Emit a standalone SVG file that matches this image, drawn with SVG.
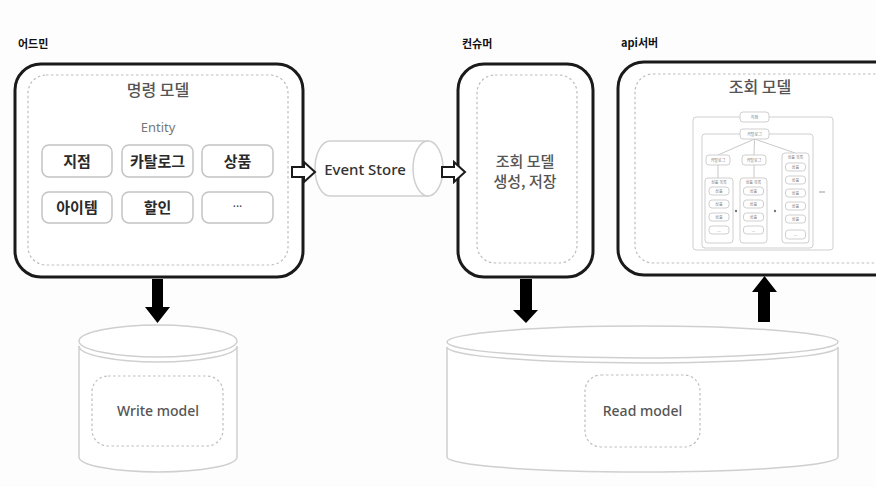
<svg xmlns="http://www.w3.org/2000/svg" width="876" height="487" viewBox="0 0 876 487">
<style>
text{font-family:"Noto Sans CJK KR","Noto Sans",sans-serif;}
.lbl{font-size:11px;font-weight:700;fill:#111;}
.outer{fill:#fff;stroke:#1a1a1a;stroke-width:3;}
.dash{fill:none;stroke:#bdbdbd;stroke-width:1.2;stroke-dasharray:2.5 2.5;}
.title{font-size:16px;fill:#555;font-weight:500;text-anchor:middle;}
.title2{font-size:15px;fill:#555;font-weight:500;text-anchor:middle;}
.ent{fill:#fff;stroke:#c4c4c4;stroke-width:1.5;}
.entt{font-size:15px;font-weight:700;fill:#2a2a2a;text-anchor:middle;}
.db{fill:#fff;stroke:#cfcfcf;stroke-width:1.5;}
.dbt{font-size:14px;fill:#555;font-weight:500;text-anchor:middle;font-family:"Noto Sans",sans-serif;}
.m{fill:#fff;stroke:#cfcfcf;stroke-width:1;}
.mt{font-size:4px;fill:#777;text-anchor:middle;}
.ml{stroke:#c8c8c8;stroke-width:1;fill:none;}
.hollow{fill:#fff;stroke:#1a1a1a;stroke-width:2;stroke-linejoin:miter;}
.solid{fill:#000;}
</style>
<rect width="876" height="487" fill="#fdfdfd"/>

<g id="admin">
  <text class="lbl" x="18" y="48">어드민</text>
  <rect class="outer" x="15" y="64" width="288" height="213" rx="26"/>
  <rect class="dash" x="28" y="75" width="260" height="190" rx="18"/>
  <text class="title" x="158" y="96">명령 모델</text>
  <text x="158" y="132" style="font-size:13px;fill:#777;text-anchor:middle;font-family:'Noto Sans',sans-serif">Entity</text>
  <rect class="ent" x="42" y="145" width="70" height="32" rx="7"/>
  <text class="entt" x="77" y="167">지점</text>
  <rect class="ent" x="122" y="145" width="71" height="32" rx="7"/>
  <text class="entt" x="157.5" y="167">카탈로그</text>
  <rect class="ent" x="202" y="145" width="71" height="32" rx="7"/>
  <text class="entt" x="237.5" y="167">상품</text>
  <rect class="ent" x="42" y="192" width="70" height="31" rx="7"/>
  <text class="entt" x="77" y="213">아이템</text>
  <rect class="ent" x="122" y="192" width="71" height="31" rx="7"/>
  <text class="entt" x="157.5" y="213">할인</text>
  <rect class="ent" x="202" y="192" width="71" height="31" rx="7"/>
  <text x="237.5" y="211" style="font-size:12px;fill:#444;text-anchor:middle;font-family:'Noto Sans',sans-serif">···</text>
</g>

<g id="event-store">
  <path class="db" d="M330,141 L428,141 L428,196 L330,196 A15,27.5 0 0 1 330,141 Z"/>
  <ellipse class="db" cx="428" cy="168.5" rx="15" ry="27.5"/>
  <text x="365" y="175" style="font-size:15px;fill:#333;text-anchor:middle;font-family:'Noto Sans',sans-serif;font-weight:500">Event Store</text>
</g>

<g id="consumer">
  <text class="lbl" x="462" y="48">컨슈머</text>
  <rect class="outer" x="458" y="64" width="135" height="213" rx="26"/>
  <rect class="dash" x="477" y="75" width="100" height="188" rx="18"/>
  <text class="title2" x="525" y="167">조회 모델</text>
  <text class="title2" x="525" y="187">생성, 저장</text>
</g>

<g id="api-server">
  <text class="lbl" x="621" y="47">api서버</text>
  <rect class="outer" x="618" y="62" width="290" height="213" rx="26"/>
  <rect class="dash" x="635" y="74" width="262" height="189" rx="18"/>
  <text class="title" x="760" y="93">조회 모델</text>
  <g id="mini-diagram">
    <rect class="m" x="693" y="117" width="140" height="133" rx="3"/>
    <rect class="m" x="740" y="112" width="29" height="10" rx="3"/>
    <text class="mt" x="754.5" y="118.5">지점</text>
    <rect class="m" x="702" y="134" width="111" height="114" rx="3"/>
    <line class="ml" x1="754.5" y1="139" x2="718" y2="155"/>
    <line class="ml" x1="754.5" y1="139" x2="754" y2="155"/>
    <line class="ml" x1="754.5" y1="139" x2="795" y2="153"/>
    <rect class="m" x="740" y="129" width="29" height="10" rx="3"/>
    <text class="mt" x="754.5" y="135.5">카탈로그</text>
    <rect class="m" x="706" y="155" width="24" height="10" rx="3"/>
    <text class="mt" x="718" y="161.5">카탈로그</text>
    <rect class="m" x="742" y="155" width="24" height="10" rx="3"/>
    <text class="mt" x="754" y="161.5">카탈로그</text>
    <line class="ml" x1="718" y1="165" x2="718" y2="178"/>
    <line class="ml" x1="754" y1="165" x2="754" y2="178"/>
    <rect class="m" x="705" y="178" width="28" height="65" rx="3"/>
    <text class="mt" x="719" y="184">상품 목록</text>
    <rect class="m" x="709" y="187" width="20" height="8" rx="3"/><text class="mt" x="719" y="192.5">상품</text>
    <rect class="m" x="709" y="200" width="20" height="8" rx="3"/><text class="mt" x="719" y="205.5">상품</text>
    <rect class="m" x="709" y="213" width="20" height="8" rx="3"/><text class="mt" x="719" y="218.5">상품</text>
    <rect class="m" x="709" y="226" width="20" height="8" rx="3"/><text class="mt" x="719" y="231.5">...</text>
    <rect class="m" x="740" y="178" width="27" height="65" rx="3"/>
    <text class="mt" x="753.5" y="184">상품 목록</text>
    <rect class="m" x="743.5" y="187" width="20" height="8" rx="3"/><text class="mt" x="753.5" y="192.5">상품</text>
    <rect class="m" x="743.5" y="200" width="20" height="8" rx="3"/><text class="mt" x="753.5" y="205.5">상품</text>
    <rect class="m" x="743.5" y="213" width="20" height="8" rx="3"/><text class="mt" x="753.5" y="218.5">상품</text>
    <rect class="m" x="743.5" y="226" width="20" height="8" rx="3"/><text class="mt" x="753.5" y="231.5">...</text>
    <rect class="m" x="782" y="153" width="27" height="90" rx="3"/>
    <text class="mt" x="795.5" y="159">상품 목록</text>
    <rect class="m" x="785.5" y="163" width="20" height="8" rx="3"/><text class="mt" x="795.5" y="168.5">상품</text>
    <rect class="m" x="785.5" y="176" width="20" height="8" rx="3"/><text class="mt" x="795.5" y="181.5">상품</text>
    <rect class="m" x="785.5" y="189" width="20" height="8" rx="3"/><text class="mt" x="795.5" y="194.5">상품</text>
    <rect class="m" x="785.5" y="202" width="20" height="8" rx="3"/><text class="mt" x="795.5" y="207.5">상품</text>
    <rect class="m" x="785.5" y="215" width="20" height="8" rx="3"/><text class="mt" x="795.5" y="220.5">상품</text>
    <rect class="m" x="785.5" y="230" width="20" height="9" rx="3"/><text class="mt" x="795.5" y="236">...</text>
    <circle cx="736" cy="211" r="1.2" fill="#777"/>
    <circle cx="775" cy="211" r="1.2" fill="#777"/>
    <line x1="819" y1="192" x2="825" y2="192" stroke="#999" stroke-width="1"/>
  </g>
</g>

<g id="write-model">
  <path class="db" d="M79,346 L79,457 A79,15 0 0 0 237,457 L237,346"/>
  <path class="ml" d="M79,346 A79,16 0 0 0 237,346" style="stroke:#cfcfcf;stroke-width:1.5"/>
  <ellipse class="db" cx="158" cy="341" rx="79" ry="16"/>
  <rect class="dash" x="92" y="376" width="131" height="70" rx="16"/>
  <text class="dbt" x="158" y="416">Write model</text>
</g>

<g id="read-model">
  <path class="db" d="M447,347 L447,457 A195.5,15 0 0 0 838,457 L838,347"/>
  <path class="ml" d="M447,347 A195.5,16 0 0 0 838,347" style="stroke:#cfcfcf;stroke-width:1.5"/>
  <ellipse class="db" cx="642.5" cy="342" rx="195.5" ry="16"/>
  <rect class="dash" x="585" y="375" width="115" height="72" rx="16"/>
  <text class="dbt" x="642.5" y="416">Read model</text>
</g>

<g id="connectors">
  <polygon class="hollow" points="292,167 304,167 304,162 315,172 304,182 304,177 292,177"/>
  <polygon class="hollow" points="442,167 454,167 454,162 465,172 454,182 454,177 442,177"/>
  <polygon class="solid" points="152,279 163,279 163,307 170,307 157.5,323 145,307 152,307"/>
  <polygon class="solid" points="520,279 532,279 532,310 538,310 526,323 513,310 520,310"/>
  <polygon class="solid" points="758,322 770,322 770,292 777,292 764.5,276 752,292 758,292"/>
</g>
</svg>
